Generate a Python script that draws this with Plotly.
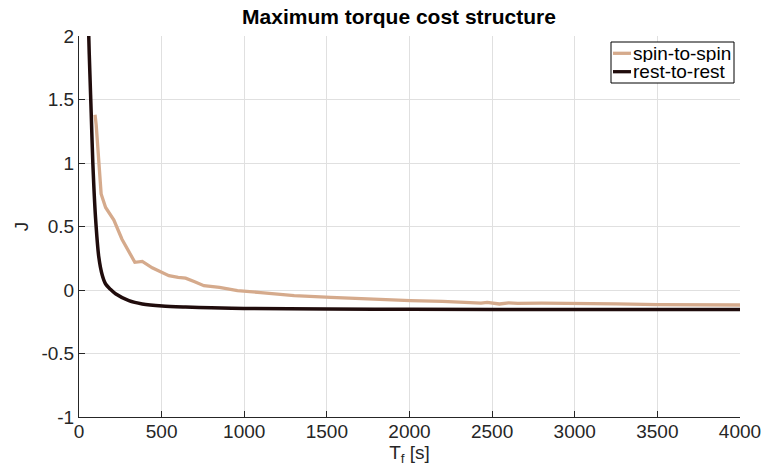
import plotly.graph_objects as go

# ---- data ----
spin_T = [97, 104, 134, 161, 211, 260, 338, 383, 443, 544, 600, 645, 700, 756, 850, 959,
          1100, 1302, 1524, 1590, 1645, 1706, 1800, 1900, 2005, 2200, 2380, 2433, 2470,
          2544, 2600, 2655, 2800, 3009, 3250, 3504, 3750, 4000]
spin_J = [1.38, 1.30, 0.756, 0.65, 0.55, 0.40, 0.218, 0.225, 0.175, 0.113, 0.10, 0.093,
          0.065, 0.034, 0.02, -0.005, -0.02, -0.045, -0.058, -0.062, -0.066, -0.071,
          -0.074, -0.080, -0.084, -0.090, -0.098, -0.103, -0.097, -0.110, -0.101, -0.105,
          -0.104, -0.105, -0.110, -0.115, -0.116, -0.118]

rest_T = [55, 59, 66, 74, 84, 100, 120, 140, 161, 190, 221, 302, 383, 504, 645, 800,
          1000, 1500, 2000, 3000, 4000]
rest_J = [2.4, 2.0, 1.7, 1.387, 0.99, 0.57, 0.257, 0.12, 0.047, 0.005, -0.03, -0.084,
          -0.11, -0.126, -0.134, -0.14, -0.145, -0.15, -0.152, -0.153, -0.154]

series_names = ["spin-to-spin", "rest-to-rest"]
series_colors = ["#d5aa8c", "#200c0c"]

x_ticks = [0, 500, 1000, 1500, 2000, 2500, 3000, 3500, 4000]
y_ticks = [-1, -0.5, 0, 0.5, 1, 1.5, 2]
y_tick_labels = ["-1", "-0.5", "0", "0.5", "1", "1.5", "2"]

FONT = "Liberation Sans, Arial, Helvetica, sans-serif"
TXT = "#262626"

W, H = 763, 475
ML, MR, MT, MB = 79, 23, 36, 58
PW, PH = W - ML - MR, H - MT - MB


def px_x(p):
    return (p - ML) / PW


def px_y(p):
    return (H - MB - p) / PH


fig = go.Figure()
fig.add_trace(go.Scatter(x=spin_T, y=spin_J, mode="lines", name=series_names[0],
                         line=dict(color=series_colors[0], width=3.3), showlegend=False))
fig.add_trace(go.Scatter(x=rest_T, y=rest_J, mode="lines", name=series_names[1],
                         line=dict(color=series_colors[1], width=3.5, shape="spline",
                                   smoothing=0.8), showlegend=False))

# ---- legend box (drawn in paper coordinates, MATLAB style) ----
shapes = [dict(type="rect", xref="paper", yref="paper",
               x0=px_x(611), x1=px_x(734), y0=px_y(83), y1=px_y(42),
               line=dict(color="black", width=1), fillcolor="white", layer="above")]
annotations = []
row_y = [53.3, 71.7]
for name, col, ry in zip(series_names, series_colors, row_y):
    shapes.append(dict(type="line", xref="paper", yref="paper",
                       x0=px_x(613), x1=px_x(631), y0=px_y(ry), y1=px_y(ry),
                       line=dict(color=col, width=3.3), layer="above"))
    annotations.append(dict(text=name, xref="paper", yref="paper", x=px_x(631.5),
                            y=px_y(ry), xanchor="left", yanchor="middle", showarrow=False,
                            height=17, valign="middle", borderpad=0,
                            font=dict(family=FONT, size=19, color="black")))

fig.update_layout(
    width=W, height=H,
    margin=dict(l=ML, r=MR, t=MT, b=MB),
    paper_bgcolor="white", plot_bgcolor="white",
    font=dict(family=FONT, size=19, color=TXT),
    title=dict(text="<b>Maximum torque cost structure</b>", x=399/763, xanchor="center",
               xref="container", y=1 - 17/475, yanchor="middle", yref="container",
               font=dict(family=FONT, size=21, color="black")),
    shapes=shapes,
    annotations=annotations,
    showlegend=False,
)
fig.update_xaxes(range=[0, 4000], tickvals=x_ticks, ticktext=[str(v) for v in x_ticks],
                 showgrid=True, gridcolor="#e0e0e0", gridwidth=1, zeroline=False,
                 showline=True, linecolor=TXT, linewidth=1,
                 ticks="inside", ticklen=6, tickcolor=TXT, tickwidth=1,
                 ticklabelstandoff=-3,
                 title=dict(text="T<sub>f</sub> [s]", standoff=0, font=dict(size=19)),
                 automargin=False)
fig.update_yaxes(range=[-1, 2], tickvals=y_ticks, ticktext=y_tick_labels,
                 showgrid=True, gridcolor="#e0e0e0", gridwidth=1, zeroline=False,
                 showline=True, linecolor=TXT, linewidth=1,
                 ticks="inside", ticklen=6, tickcolor=TXT, tickwidth=1,
                 title=dict(text="J", standoff=7, font=dict(size=19)),
                 automargin=False)

fig.write_html("out.html")
